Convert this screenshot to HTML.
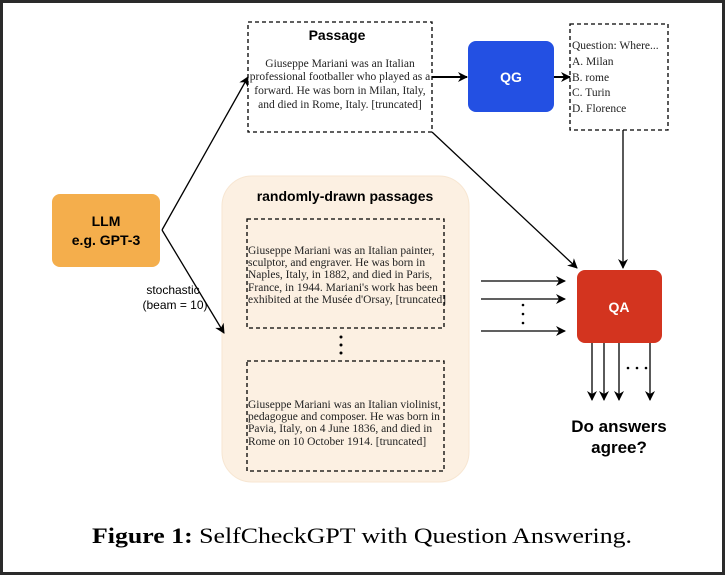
<!DOCTYPE html>
<html><head><meta charset="utf-8"><style>
html,body{margin:0;padding:0;background:#fff}
svg{display:block}
.s{font-family:"Liberation Serif",serif;font-size:11.5px;fill:#222}
.b{font-family:"Liberation Sans",sans-serif;font-weight:bold}
</style></head><body>
<svg width="725" height="575" viewBox="0 0 725 575" xmlns="http://www.w3.org/2000/svg">
<defs>
<marker id="a" markerWidth="10" markerHeight="10" refX="9" refY="5" orient="auto" markerUnits="userSpaceOnUse"><path d="M0,0 L10,5 L0,10 L3,5 z" fill="#000"/></marker>
</defs>
<rect x="1.5" y="1.5" width="722" height="572" fill="#fff" stroke="#2a2a2a" stroke-width="3"/>
<rect x="222" y="176" width="247" height="306" rx="30" fill="#fcf0e2" stroke="#f7e6d2"/>
<text x="345" y="201" class="b" font-size="14" text-anchor="middle">randomly-drawn passages</text>
<rect x="248" y="22" width="184" height="110" fill="#fff" stroke="#000" stroke-dasharray="4,3" stroke-width="1.3"/>
<text x="337" y="40" class="b" font-size="14" text-anchor="middle">Passage</text>
<g class="s" text-anchor="middle">
<text x="340" y="67">Giuseppe Mariani was an Italian</text>
<text x="340" y="80">professional footballer who played as a</text>
<text x="340" y="94">forward. He was born in Milan, Italy,</text>
<text x="340" y="108">and died in Rome, Italy. [truncated]</text>
</g>
<rect x="468" y="41" width="86" height="71" rx="8" fill="#2350e3"/>
<text x="511" y="82" class="b" font-size="14" fill="#fff" text-anchor="middle">QG</text>
<rect x="570" y="24" width="98" height="106" fill="#fff" stroke="#000" stroke-dasharray="4,3" stroke-width="1.3"/>
<g class="s" font-size="12">
<text x="572" y="49">Question: Where...</text>
<text x="572" y="65">A. Milan</text>
<text x="572" y="81">B. rome</text>
<text x="572" y="96">C. Turin</text>
<text x="572" y="112">D. Florence</text>
</g>
<rect x="52" y="194" width="108" height="73" rx="8" fill="#f4ae4c"/>
<text x="106" y="226" class="b" font-size="14" text-anchor="middle">LLM</text>
<text x="106" y="245" class="b" font-size="14" text-anchor="middle">e.g. GPT-3</text>
<text x="173" y="294" font-family="Liberation Sans,sans-serif" font-size="12" text-anchor="middle">stochastic</text>
<text x="175" y="309" font-family="Liberation Sans,sans-serif" font-size="12" text-anchor="middle">(beam = 10)</text>
<rect x="577" y="270" width="85" height="73" rx="8" fill="#d3341f"/>
<text x="619" y="312" class="b" font-size="14" fill="#fff" text-anchor="middle">QA</text>
<rect x="247" y="219" width="197" height="109" fill="none" stroke="#000" stroke-dasharray="4,3" stroke-width="1.3"/>
<g class="s" font-size="11.2">
<text x="248" y="254">Giuseppe Mariani was an Italian painter,</text>
<text x="248" y="266">sculptor, and engraver. He was born in</text>
<text x="248" y="278">Naples, Italy, in 1882, and died in Paris,</text>
<text x="248" y="291">France, in 1944. Mariani's work has been</text>
<text x="248" y="303">exhibited at the Musée d'Orsay, [truncated]</text>
</g>
<rect x="247" y="361" width="197" height="110" fill="none" stroke="#000" stroke-dasharray="4,3" stroke-width="1.3"/>
<g class="s" font-size="11.2">
<text x="248" y="408">Giuseppe Mariani was an Italian violinist,</text>
<text x="248" y="420">pedagogue and composer. He was born in</text>
<text x="248" y="432">Pavia, Italy, on 4 June 1836, and died in</text>
<text x="248" y="445">Rome on 10 October 1914. [truncated]</text>
</g>
<g fill="#000">
<circle cx="341" cy="337" r="1.5"/><circle cx="341" cy="345" r="1.5"/><circle cx="341" cy="353" r="1.5"/>
<circle cx="523" cy="305" r="1.3"/><circle cx="523" cy="314" r="1.3"/><circle cx="523" cy="323" r="1.3"/>
<circle cx="628" cy="368" r="1.3"/><circle cx="637" cy="368" r="1.3"/><circle cx="646" cy="368" r="1.3"/>
</g>
<g stroke="#000" stroke-width="1.3" fill="none" marker-end="url(#a)">
<line x1="432" y1="77" x2="467" y2="77" stroke-width="2"/>
<line x1="554" y1="77" x2="570" y2="77" stroke-width="2"/>
<line x1="623" y1="130" x2="623" y2="268"/>
<line x1="432" y1="132" x2="577" y2="268"/>
<line x1="162" y1="230" x2="248" y2="77"/>
<line x1="162" y1="230" x2="224" y2="333"/>
<line x1="481" y1="281" x2="565" y2="281"/>
<line x1="481" y1="299" x2="565" y2="299"/>
<line x1="481" y1="331" x2="565" y2="331"/>
<line x1="592" y1="343" x2="592" y2="400"/>
<line x1="604" y1="343" x2="604" y2="400"/>
<line x1="619" y1="343" x2="619" y2="400"/>
<line x1="650" y1="343" x2="650" y2="400"/>
</g>
<text x="619" y="432" class="b" font-size="17" text-anchor="middle">Do answers</text>
<text x="619" y="453" class="b" font-size="17" text-anchor="middle">agree?</text>
<text x="92" y="543" font-family="Liberation Serif,serif" font-size="22" textLength="540" lengthAdjust="spacingAndGlyphs"><tspan font-weight="bold">Figure 1:</tspan> SelfCheckGPT with Question Answering.</text>
</svg>
</body></html>
